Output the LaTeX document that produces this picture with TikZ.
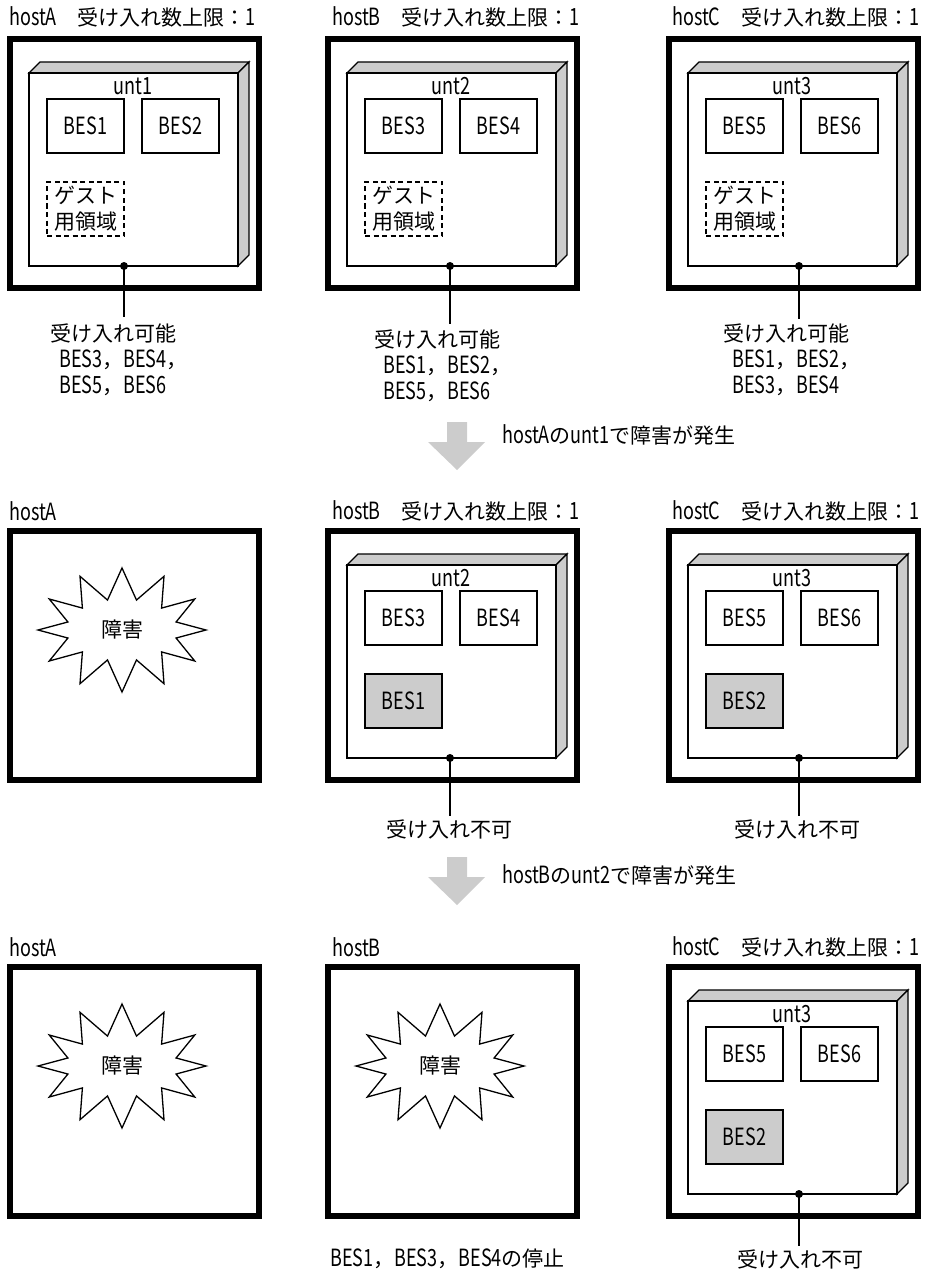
\documentclass[tikz,border=0pt]{standalone}
\usepackage{fontspec}
\setmainfont{Noto Sans CJK JP}
\newfontfamily\hwfont{Noto Sans CJK JP}[FakeStretch=0.76, Scale=1.13]
\usetikzlibrary{positioning, calc}

\newcommand{\hw}[1]{{\hwfont #1}}

% host frame with its unit: #1 left, #2 top, #3 id, #4 unit, #5 #6 upper BES, #7 dot offset
\newcommand{\hostunit}[7]{%
  \draw[hostframe] (#1+3,#2+3) rectangle (#1+252,#2+252);
  \draw[unitface] (#1+22,#2+37) -- (#1+33,#2+26) -- (#1+242,#2+26) -- (#1+231,#2+37) -- cycle;
  \draw[unitface] (#1+231,#2+37) -- (#1+242,#2+26) -- (#1+242,#2+219) -- (#1+231,#2+230) -- cycle;
  \draw[thinline, fill=white] (#1+22,#2+37) rectangle (#1+231,#2+230);
  \node[txt] (unit-#3) at (#1+126,#2+50) {\hw{#4}};
  \node[bes] (besl-#3) at (#1+78.5,#2+90) {\hw{#5}};
  \node[bes] (besr-#3) at (#1+173.5,#2+90) {\hw{#6}};
  \coordinate (dot-#3) at (#1+#7,#2+230);
  \fill (dot-#3) circle[radius=4];
}
% failed host: #1 left, #2 top, #3 id
\newcommand{\hostdown}[3]{%
  \draw[hostframe] (#1+3,#2+3) rectangle (#1+252,#2+252);
  \coordinate (burst-#3) at (#1+115,#2+102);
  \draw[thinline, fill=white] ($(burst-#3)+(0:84 and 62)$)
    \foreach \a in {0,30,...,330} { -- ($(burst-#3)+(\a+15:56 and 31)$) -- ($(burst-#3)+(\a+30:84 and 62)$) } -- cycle;
  \node[txt] (err-#3) at (burst-#3) {障害};
}

\begin{document}
\begin{tikzpicture}[x=1pt, y=-1pt, font=\fontsize{21}{26}\selectfont,
  hostframe/.style={line width=6pt},
  thinline/.style={line width=1.3pt},
  unitface/.style={thinline, fill=gray!40},
  bes/.style={draw, thinline, fill=white, minimum width=77pt, minimum height=54pt, inner sep=0pt, align=center},
  guest/.style={bes, dash pattern=on 5pt off 3.5pt},
  moved/.style={bes, fill=gray!40},
  txt/.style={inner sep=0pt, align=center},
  bigarrow/.style={fill=gray!40}]
  \useasboundingbox (0,0) rectangle (926,1276);

  % before the failure
  \node[txt, anchor=west] (head-a1) at (9,17) {\hw{hostA}　受け入れ数上限：\hw{1}};
  \node[txt, anchor=west] (head-b1) at (332,17) {\hw{hostB}　受け入れ数上限：\hw{1}};
  \node[txt, anchor=west] (head-c1) at (672,17) {\hw{hostC}　受け入れ数上限：\hw{1}};
  \hostunit{7}{36}{a1}{unt1}{BES1}{BES2}{117}
  \hostunit{325}{36}{b1}{unt2}{BES3}{BES4}{125}
  \hostunit{666}{36}{c1}{unt3}{BES5}{BES6}{133}
  \node[guest] (guest-a1) at (85.5,209) {ゲスト\\用領域};
  \node[guest] (guest-b1) at (403.5,209) {ゲスト\\用領域};
  \node[guest] (guest-c1) at (744.5,209) {ゲスト\\用領域};
  \node[txt, align=left, anchor=north west] (ok-a1) at (50,324)
    {受け入れ可能\\\hspace{9pt}\hw{BES3}，\hw{BES4}，\\\hspace{9pt}\hw{BES5}，\hw{BES6}};
  \node[txt, align=left, anchor=north west] (ok-b1) at (374,330)
    {受け入れ可能\\\hspace{9pt}\hw{BES1}，\hw{BES2}，\\\hspace{9pt}\hw{BES5}，\hw{BES6}};
  \node[txt, align=left, anchor=north west] (ok-c1) at (723,324)
    {受け入れ可能\\\hspace{9pt}\hw{BES1}，\hw{BES2}，\\\hspace{9pt}\hw{BES3}，\hw{BES4}};
  \draw[thinline, shorten >=7pt] (dot-a1) -- (dot-a1 |- ok-a1.north);
  \draw[thinline, shorten >=6pt] (dot-b1) -- (dot-b1 |- ok-b1.north);
  \draw[thinline, shorten >=5pt] (dot-c1) -- (dot-c1 |- ok-c1.north);

  % first failure
  \fill[bigarrow] (447,422) -- (467,422) -- (467,442) -- (485,442) -- (457,470) -- (428,442) -- (447,442) -- cycle;
  \node[txt, anchor=west] (step-1) at (502,435) {\hw{hostA}の\hw{unt1}で障害が発生};

  \node[txt, anchor=west] (head-a2) at (9,511) {\hw{hostA}};
  \node[txt, anchor=west] (head-b2) at (332,511) {\hw{hostB}　受け入れ数上限：\hw{1}};
  \node[txt, anchor=west] (head-c2) at (672,511) {\hw{hostC}　受け入れ数上限：\hw{1}};
  \hostdown{7}{528}{a2}
  \hostunit{325}{528}{b2}{unt2}{BES3}{BES4}{125}
  \hostunit{666}{528}{c2}{unt3}{BES5}{BES6}{133}
  \node[moved] (moved-b2) at (403.5,701) {\hw{BES1}};
  \node[moved] (moved-c2) at (744.5,701) {\hw{BES2}};
  \node[txt] (ng-b2) at (449,829) {受け入れ不可};
  \node[txt] (ng-c2) at (797,829) {受け入れ不可};
  \draw[thinline, shorten >=3pt] (dot-b2) -- (dot-b2 |- ng-b2.north);
  \draw[thinline, shorten >=3pt] (dot-c2) -- (dot-c2 |- ng-c2.north);

  % second failure
  \fill[bigarrow] (447,857) -- (467,857) -- (467,877) -- (485,877) -- (457,905) -- (428,877) -- (447,877) -- cycle;
  \node[txt, anchor=west] (step-2) at (502,875) {\hw{hostB}の\hw{unt2}で障害が発生};

  \node[txt, anchor=west] (head-a3) at (9,947) {\hw{hostA}};
  \node[txt, anchor=west] (head-b3) at (332,947) {\hw{hostB}};
  \node[txt, anchor=west] (head-c3) at (672,947) {\hw{hostC}　受け入れ数上限：\hw{1}};
  \hostdown{7}{964}{a3}
  \hostdown{325}{964}{b3}
  \hostunit{666}{964}{c3}{unt3}{BES5}{BES6}{133}
  \node[moved] (moved-c3) at (744.5,1137) {\hw{BES2}};
  \node[txt, anchor=west] (stop-b3) at (330,1259) {\hw{BES1}，\hw{BES3}，\hw{BES4}の停止};
  \node[txt] (ng-c3) at (800,1259) {受け入れ不可};
  \draw[thinline, shorten >=3pt] (dot-c3) -- (dot-c3 |- ng-c3.north);
\end{tikzpicture}
\end{document}
